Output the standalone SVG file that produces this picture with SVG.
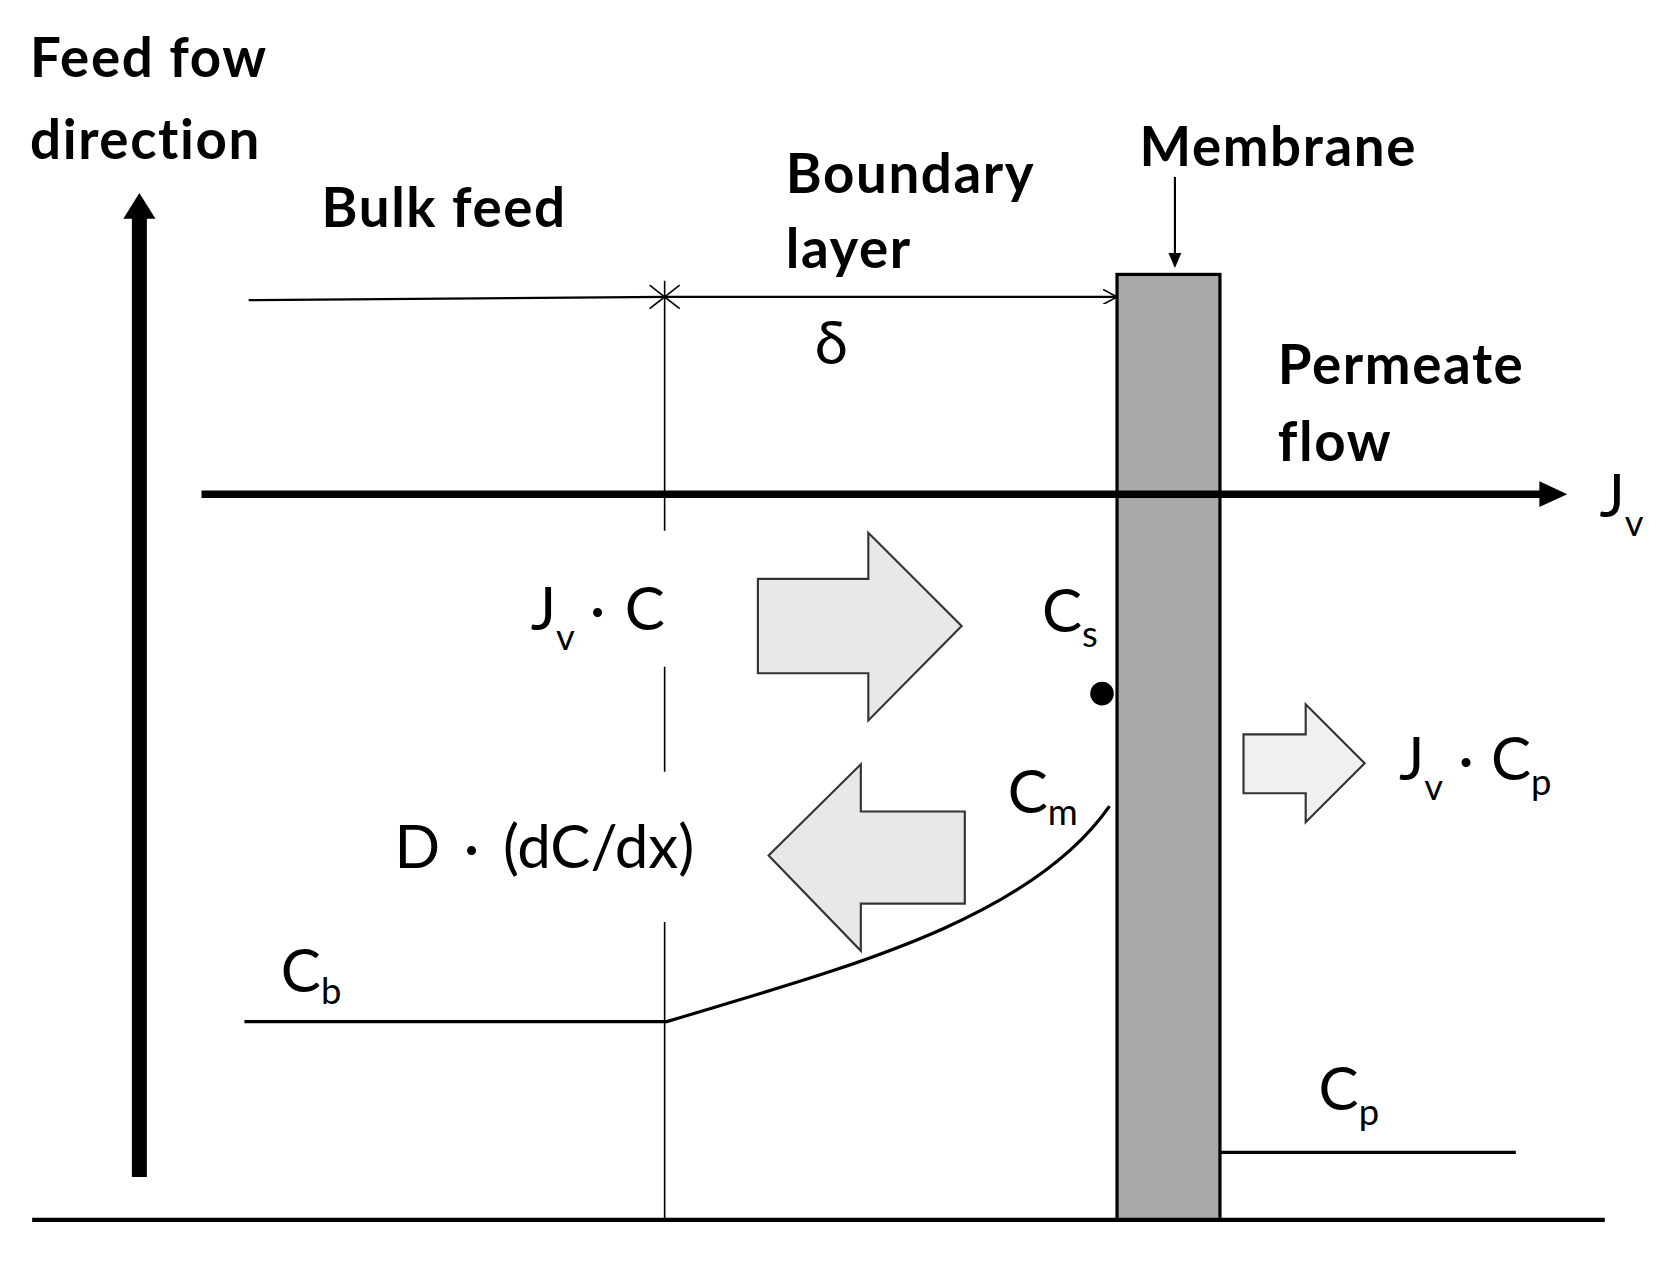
<svg xmlns="http://www.w3.org/2000/svg" width="1675" height="1265" viewBox="0 0 1675 1265">
<style>
.b{font-family:Lato,"Liberation Sans",sans-serif;font-weight:bold;font-size:51px;letter-spacing:1.5px;fill:#000}
.r{font-family:Lato,"Liberation Sans",sans-serif;font-size:56px;fill:#000}
.s{font-size:34px}
.ln{stroke:#000;fill:none}
</style>
<defs>
<marker id="ah" markerWidth="14" markerHeight="14" refX="13" refY="7" orient="auto" markerUnits="userSpaceOnUse"><path d="M0,0 L13,7 L0,14" fill="none" stroke="#000" stroke-width="1.5"/></marker>
</defs>
<rect width="1675" height="1265" fill="#fff"/>
<g transform="scale(1.072)">
<g id="membrane"><rect x="1042" y="256" width="96" height="882" fill="#a9a9a9" stroke="#000" stroke-width="3"/></g>
<g id="labels">
<text class="b" x="28" y="72">Feed fow</text>
<text class="b" x="28" y="148">direction</text>
<text class="b" x="300" y="212">Bulk feed</text>
<text class="b" x="733" y="180">Boundary</text>
<text class="b" x="733" y="250">layer</text>
<text class="b" x="1063" y="155">Membrane</text>
<text class="b" x="1192" y="358">Permeate</text>
<text class="b" x="1192" y="430">flow</text>
<text class="r" x="760" y="340" font-size="44">δ</text>
<text class="r" x="1492" y="482">J<tspan class="s" dy="18">v</tspan></text>
<text class="r" x="495" y="588">J<tspan class="s" dy="18">v</tspan><tspan dy="-18" dx="14">·</tspan><tspan dx="18">C</tspan></text>
<text class="r" x="972" y="590">C<tspan class="s" dy="14">s</tspan></text>
<text class="r" x="940" y="758">C<tspan class="s" dy="12">m</tspan></text>
<text class="r" x="368" y="810">D<tspan dx="22">·</tspan><tspan dx="22">(dC/dx)</tspan></text>
<text class="r" x="1305" y="728">J<tspan class="s" dy="18">v</tspan><tspan dy="-18" dx="14">·</tspan><tspan dx="16">C</tspan><tspan class="s" dy="14">p</tspan></text>
<text class="r" x="262" y="925">C<tspan class="s" dy="12">b</tspan></text>
<text class="r" x="1230" y="1035">C<tspan class="s" dy="14">p</tspan></text>
</g>
<g id="connectors">
<line class="ln" x1="130" y1="1098" x2="130" y2="200" stroke-width="14"/>
<path d="M115,204 L130,180 L145,204 Z"/>
<line class="ln" x1="188" y1="461" x2="1440" y2="461" stroke-width="7"/>
<path d="M1436,449 L1462,461 L1436,473 Z"/>
<line class="ln" x1="1096" y1="165" x2="1096" y2="248" stroke-width="2"/>
<path d="M1090,236 L1096,250 L1102,236 Z"/>
<line class="ln" x1="232" y1="280" x2="620" y2="277" stroke-width="2"/>
<line class="ln" x1="620" y1="277" x2="1042" y2="277" stroke-width="2" marker-end="url(#ah)"/>
<path class="ln" d="M634,266 L620,277 L634,288 M606,266 L620,277 L606,288" stroke-width="1.5"/>
<path class="ln" d="M620,262 V495 M620,622 V720 M620,860 V1140" stroke-width="1.5"/>
<path class="ln" d="M228,953 H622 C780,905 960,860 1035,752" stroke-width="3"/>
<line class="ln" x1="1138" y1="1075" x2="1414" y2="1075" stroke-width="3"/>
<line class="ln" x1="30" y1="1138" x2="1497" y2="1138" stroke="#555" stroke-width="4"/>
<circle cx="1028" cy="647" r="11"/>
<path d="M707,540 H810 V497 L897,584 L810,672 V628 H707 Z" fill="#e8e8e8" stroke="#333" stroke-width="2"/>
<path d="M900,757 H803 V713 L717,798 L803,887 V843 H900 Z" fill="#e8e8e8" stroke="#333" stroke-width="2"/>
<path d="M1160,685 H1218 V657 L1273,712 L1218,767 V740 H1160 Z" fill="#f0f0f0" stroke="#333" stroke-width="2"/>
</g>
</g>
</svg>
